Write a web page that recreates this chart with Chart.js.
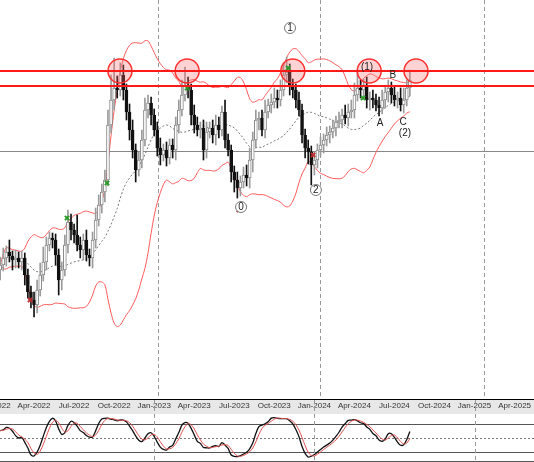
<!DOCTYPE html>
<html><head><meta charset="utf-8">
<script src="https://cdn.jsdelivr.net/npm/chart.js@4.4.1/dist/chart.umd.min.js"></script>
<style>html,body{margin:0;padding:0;background:#fff;overflow:hidden}
#a{position:absolute;left:0;top:0;width:534px;height:400px}
#b{position:absolute;left:0;top:400px;width:534px;height:62px}</style>
</head><body>
<div id="a"><canvas id="c1"></canvas></div>
<div id="b"><canvas id="c2"></canvas></div>
<script>
// weekly candles, week index starting at 2 (week 0 = first week of Jan-2022)
const firstWeek = 2;
const firstOpen = 130;
const closes = [135,142,148,144,140,142,138,142,125,108,
100,95,110,125,138,155,162,160,145,120,
130,155,178,170,165,155,150,160,145,142,
160,180,195,208,220,275,300,312,310,325,
310,288,270,250,230,240,260,290,297,285,
270,252,245,250,242,255,250,275,290,305,
315,310,285,275,270,272,250,268,272,265,
275,270,288,260,250,228,220,212,218,225,
222,240,260,280,282,270,288,295,298,302,
300,310,325,328,315,310,300,290,265,252,
248,235,240,250,255,260,265,268,272,278,
280,285,282,288,290,305,312,310,315,300,
302,300,295,292,300,308,312,305,300,302,
295,300,312,320];
const upperWick = [8,10,6,12,5,8,6,7,5,6,
6,8,10,12,15,8,6,5,6,6,
8,10,12,8,6,20,8,6,10,6,
8,12,10,8,10,15,25,30,12,12,
10,6,8,10,6,8,10,12,8,6,
6,8,10,6,8,6,6,8,10,15,
18,8,6,10,8,6,8,10,6,8,
10,8,6,12,6,5,6,8,6,8,
10,12,8,10,6,8,12,6,8,10,
8,10,12,15,8,6,6,8,6,6,
8,6,8,6,8,6,8,6,8,6,
8,6,10,8,10,12,18,8,6,8,
6,8,6,8,10,6,8,6,8,6,
10,12,8,10];
const lowerWick = [10,6,8,6,10,8,6,8,10,6,
8,12,8,6,6,8,6,8,10,15,
10,6,8,10,8,6,8,10,6,8,
10,8,6,8,10,6,8,10,8,6,
10,8,10,8,12,6,8,6,8,10,
6,8,10,6,8,6,8,10,8,6,
6,8,10,8,6,8,10,8,6,8,
10,8,6,8,6,10,12,10,8,6,
8,10,12,8,10,6,8,6,8,6,
8,6,6,8,10,8,8,6,8,10,
12,20,10,8,6,8,6,8,6,8,
6,8,6,8,6,8,6,8,6,8,
10,8,6,8,6,8,10,8,6,8,
6,8,6,8];
const tickWeeks = [0,13,26,39,52,65,78,91,104,117,130,143,156,169];
const tickLabels = ["Jan-2022","Apr-2022","Jul-2022","Oct-2022","Jan-2023","Apr-2023","Jul-2023","Oct-2023","Jan-2024","Apr-2024","Jul-2024","Oct-2024","Jan-2025","Apr-2025"];
const resistance = [329,314];
const support = [249];
const circleWeeks = [40.9,62.7,97,121.8,137];
const circlePrice = 329;
const waveLabels = [["1",96.1,372,true],["0",80.2,193,true],["2",104.5,210,true],["(1)",121.1,333,false],["B",129.5,325,false],["A",125.3,277,false],["C",132.8,278,false],["(2)",133.4,267,false]];
const greenCross = [[23.7,182],[36.7,217],[62.7,312],[95.5,332],[119.8,302]];
const redCross = [[11.7,100],[79.5,190],[103.6,245]];
const mainYearLines = [53.3,105.8,159.1];

const XMIN=1.95, XMAX=175.3;
const opens = closes.map((c,i)=> i===0?firstOpen:closes[i-1]);
const highs = closes.map((c,i)=>Math.max(c,opens[i])+upperWick[i]);
const lows = closes.map((c,i)=>Math.min(c,opens[i])-lowerWick[i]);
const xs = closes.map((c,i)=>firstWeek+i);
const bull = closes.map((c,i)=>c>=opens[i]);
const ma=[],ub=[],lb=[];
closes.forEach((c,i)=>{const w=closes.slice(Math.max(0,i-19),i+1);const m=w.reduce((a,b)=>a+b,0)/w.length;
 const sd=Math.sqrt(w.reduce((a,b)=>a+(b-m)*(b-m),0)/w.length);ma.push({x:xs[i],y:m});ub.push({x:xs[i],y:m+2*sd});lb.push({x:xs[i],y:m-2*sd});});
const rawK=closes.map((c,i)=>{const s=Math.max(0,i-13);const hh=Math.max(...highs.slice(s,i+1)),ll=Math.min(...lows.slice(s,i+1));return hh>ll?100*(c-ll)/(hh-ll):50;});
const sma=(a,n)=>a.map((v,i)=>{const w=a.slice(Math.max(0,i-n+1),i+1);return w.reduce((p,q)=>p+q,0)/w.length;});
const kS=sma(rawK,3), dS=sma(kS,3);

const guides={id:'guides',beforeDatasetsDraw(ch){const {ctx,chartArea:a,scales:{x,y}}=ch;ctx.save();
 ctx.setLineDash([4,3]);ctx.strokeStyle='#999';ctx.lineWidth=1;
 mainYearLines.forEach(w=>{const px=Math.round(x.getPixelForValue(w))+0.5;ctx.beginPath();ctx.moveTo(px,a.top);ctx.lineTo(px,a.bottom);ctx.stroke();});
 ctx.setLineDash([]);ctx.strokeStyle='#888';
 support.forEach(p=>{const py=Math.round(y.getPixelForValue(p))+0.5;ctx.beginPath();ctx.moveTo(a.left,py);ctx.lineTo(a.right,py);ctx.stroke();});
 ctx.strokeStyle='#000';ctx.beginPath();ctx.moveTo(a.left,a.bottom-0.5);ctx.lineTo(a.right,a.bottom-0.5);ctx.stroke();
 ctx.restore();},
 afterDatasetsDraw(ch){const {ctx,chartArea:a,scales:{x,y}}=ch;ctx.save();
 ctx.strokeStyle='#ff1a1a';ctx.lineWidth=2;
 resistance.forEach(p=>{const py=y.getPixelForValue(p);ctx.beginPath();ctx.moveTo(a.left,py);ctx.lineTo(a.right,py);ctx.stroke();});
 ctx.font='10px "Liberation Sans", Arial';ctx.textAlign='center';ctx.textBaseline='middle';
 waveLabels.forEach(([t,w,p,c])=>{const px=x.getPixelForValue(w),py=y.getPixelForValue(p);
  if(c){ctx.beginPath();ctx.arc(px,py,5.5,0,Math.PI*2);ctx.fillStyle='#fff';ctx.fill();ctx.strokeStyle='#777';ctx.lineWidth=1;ctx.stroke();}
  ctx.fillStyle='#222';ctx.fillText(t,px,py+0.5);});
 ctx.restore();}};

new Chart(document.getElementById('c1'),{type:'bar',
 data:{datasets:[
  {type:'line',data:ub,borderColor:'#ff5a5a',borderWidth:1,pointRadius:0,tension:0.3,order:5},
  {type:'line',data:lb,borderColor:'#ff5a5a',borderWidth:1,pointRadius:0,tension:0.3,order:5},
  {type:'line',data:ma,borderColor:'#777',borderWidth:1,borderDash:[2,2],pointRadius:0,tension:0.3,order:5},
  {data:xs.map((w,i)=>({x:w,y:[lows[i],highs[i]]})),backgroundColor:bull.map(b=>b?'#9a9a9a':'#111'),barThickness:1,grouped:false,order:4},
  {data:xs.map((w,i)=>({x:w,y:[Math.min(opens[i],closes[i]),Math.max(opens[i],closes[i])]})),backgroundColor:bull.map(b=>b?'#fff':'#111'),borderColor:bull.map(b=>b?'#8a8a8a':'#111'),borderWidth:1,borderSkipped:false,barThickness:3,grouped:false,order:3},
  {type:'scatter',data:circleWeeks.map(w=>({x:w,y:circlePrice})),pointRadius:12,backgroundColor:'rgba(255,110,110,0.3)',borderColor:'#ff3030',borderWidth:1.5,order:1},
  {type:'scatter',data:greenCross.map(([w,p])=>({x:w,y:p})),pointStyle:'crossRot',pointRadius:3,borderColor:'#2a9a2a',borderWidth:2,order:0},
  {type:'scatter',data:redCross.map(([w,p])=>({x:w,y:p})),pointStyle:'crossRot',pointRadius:3,borderColor:'#c03030',borderWidth:2,order:0}
 ]},
 options:{responsive:true,maintainAspectRatio:false,animation:false,layout:{padding:0,autoPadding:false},
  plugins:{legend:{display:false},tooltip:{enabled:false}},
  scales:{x:{type:'linear',offset:false,min:XMIN,max:XMAX,display:false},y:{min:0,max:400,display:false}}},
 plugins:[guides]});

const oscLines={id:'osc',beforeDatasetsDraw(ch){const {ctx,chartArea:a,scales:{x,y}}=ch;ctx.save();
 ctx.strokeStyle='#555';ctx.lineWidth=1;
 [80,20].forEach(v=>{const py=Math.round(y.getPixelForValue(v))+0.5;ctx.beginPath();ctx.moveTo(a.left,py);ctx.lineTo(a.right,py);ctx.stroke();});
 ctx.beginPath();ctx.moveTo(a.left,a.bottom-0.5);ctx.lineTo(a.right,a.bottom-0.5);ctx.stroke();
 ctx.setLineDash([2,2]);ctx.strokeStyle='#777';
 const p5=Math.round(y.getPixelForValue(50))+0.5;ctx.beginPath();ctx.moveTo(a.left,p5);ctx.lineTo(a.right,p5);ctx.stroke();
 ctx.setLineDash([4,3]);ctx.strokeStyle='#999';
 [52,104,156].forEach(w=>{const px=Math.round(x.getPixelForValue(w))+0.5;ctx.beginPath();ctx.moveTo(px,0);ctx.lineTo(px,a.bottom);ctx.stroke();});
 ctx.restore();},
 beforeDraw(ch){const {ctx,chartArea:a}=ch;ctx.save();ctx.fillStyle='#e8e8e8';ctx.fillRect(0,0,ch.width,a.top);ctx.restore();}};

new Chart(document.getElementById('c2'),{type:'line',
 data:{datasets:[
  {data:xs.map((w,i)=>({x:w,y:dS[i]})),borderColor:'#e05050',borderWidth:1,pointRadius:0,tension:0.3},
  {data:xs.map((w,i)=>({x:w,y:kS[i]})),borderColor:'#111',borderWidth:1.3,pointRadius:0,tension:0.3}
 ]},
 options:{responsive:true,maintainAspectRatio:false,animation:false,layout:{padding:0,autoPadding:false},
  plugins:{legend:{display:false},tooltip:{enabled:false}},
  scales:{x:{type:'linear',position:'top',offset:false,min:XMIN,max:XMAX,
    afterBuildTicks:s=>{s.ticks=tickWeeks.map(v=>({value:v}));},
    afterFit:s=>{s.height=14;s.paddingLeft=0;s.paddingRight=0;},
    grid:{display:false,drawTicks:true,tickLength:3},border:{display:false},
    ticks:{autoSkip:false,maxRotation:0,padding:0,color:'#333',font:{size:8,family:'"Liberation Sans", Arial'},callback:v=>tickLabels[tickWeeks.indexOf(v)]}},
   y:{min:0,max:100,display:false}}},
 plugins:[oscLines]});
</script></body></html>
